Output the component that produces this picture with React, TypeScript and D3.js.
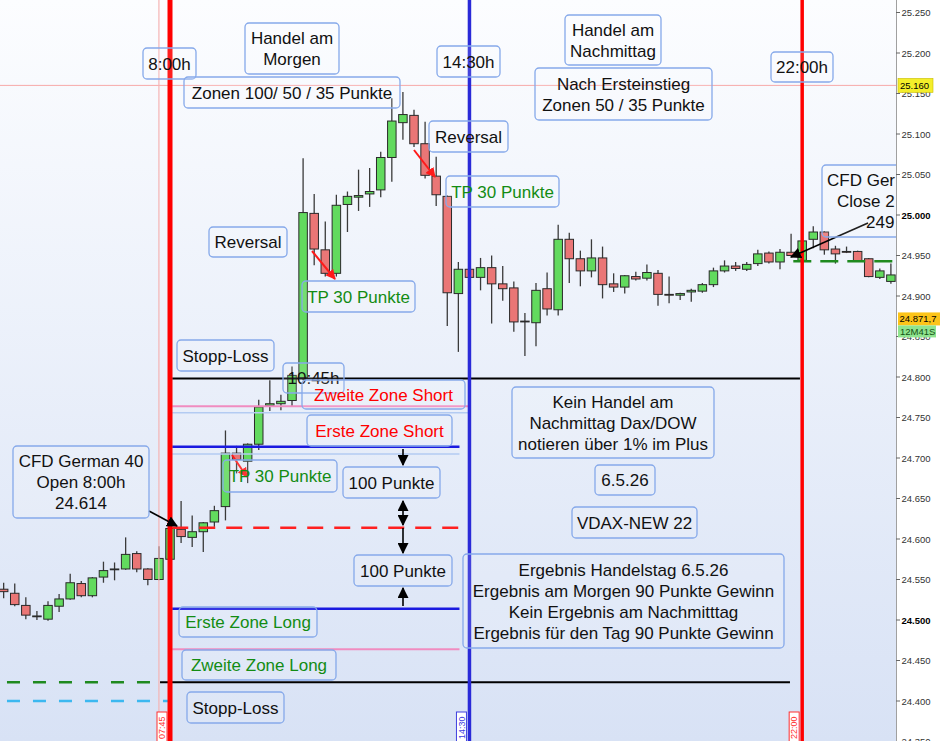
import React from 'react';
import * as d3 from 'd3';

// 15-Minuten-Kerzen CFD German 40, 6.5.26
const opens = [
  24538, 24533, 24518, 24504, 24501, 24517, 24526, 24545, 24530, 24553, 24562, 24563, 24582, 24563, 24550,
  24575, 24612, 24602, 24609, 24621, 24640, 24706, 24696, 24717, 24765, 24767, 24771, 24799, 25002, 24957,
  24928, 25013, 25022, 25026, 25031, 25071, 25114, 25123, 25088, 25048, 25023, 24903, 24933, 24923, 24935,
  24915, 24910, 24868, 24867, 24909, 24883, 24970, 24946, 24931, 24947, 24915, 24911, 24924, 24922, 24928,
  24902, 24901, 24905, 24906, 24914, 24931, 24937, 24933, 24940, 24953, 24942, 24954, 24944, 24970, 24979,
  24958, 24955, 24955, 24946, 24923, 24918,
];
const highs = [
  24546, 24545, 24528, 24511, 24523, 24532, 24557, 24548, 24553, 24572, 24571, 24602, 24585, 24564, 24591,
  24614, 24647, 24629, 24621, 24641, 24734, 24715, 24718, 24772, 24796, 24778, 24813, 25070, 25026, 24992,
  25025, 25029, 25056, 25058, 25078, 25144, 25152, 25130, 25115, 25072, 25024, 24942, 24934, 24947, 24950,
  24937, 24918, 24879, 24916, 24929, 24988, 24978, 24956, 24970, 24961, 24928, 24926, 24930, 24939, 24932,
  24924, 24904, 24909, 24916, 24935, 24944, 24942, 24942, 24957, 24955, 24958, 24977, 24969, 24986, 24980,
  24962, 24961, 24956, 24947, 24934, 24940,
];
const lows = [
  24527, 24517, 24501, 24500, 24499, 24510, 24525, 24528, 24528, 24546, 24549, 24562, 24559, 24543, 24549,
  24574, 24595, 24590, 24584, 24615, 24623, 24681, 24669, 24710, 24758, 24759, 24763, 24796, 24938, 24924,
  24924, 24979, 25005, 25010, 25022, 25041, 25093, 25084, 25045, 25011, 24863, 24831, 24922, 24907, 24866,
  24894, 24856, 24826, 24838, 24876, 24876, 24916, 24912, 24923, 24897, 24905, 24903, 24919, 24919, 24888,
  24891, 24895, 24893, 24904, 24911, 24929, 24931, 24931, 24937, 24940, 24933, 24949, 24942, 24959, 24951,
  24940, 24953, 24942, 24923, 24921, 24915,
];
const closes = [
  24535, 24519, 24506, 24505, 24518, 24526, 24546, 24530, 24552, 24561, 24563, 24581, 24563, 24550, 24576,
  24613, 24603, 24609, 24620, 24635, 24706, 24698, 24717, 24763, 24767, 24770, 24802, 25003, 24958, 24928,
  25012, 25023, 25024, 25029, 25071, 25116, 25124, 25088, 25049, 25025, 24904, 24933, 24923, 24935, 24915,
  24909, 24868, 24869, 24907, 24884, 24970, 24946, 24931, 24947, 24914, 24911, 24925, 24921, 24929, 24902,
  24901, 24903, 24907, 24914, 24931, 24937, 24934, 24939, 24952, 24942, 24954, 24950, 24968, 24979, 24957,
  24952, 24954, 24943, 24924, 24931, 24926,
];

// Kerzen-Index der Zeitmarken
const markerBars = [14, 15, 42, 72];
const markerLabels = ['07:45', '14:30', '22:00'];

// Preis-Level (Zonen)
const markPrice = 25160;
const shortLevels = [24798, 24764, 24714]; // Stopp, Zweite, Erste Zone Short
const openPrice = 24614;
const longLevels = [24514, 24464, 24423]; // Erste, Zweite Zone, Stopp Long
const helperLevels = [24756, 24705]; // hellblaue Hilfslinien
const preLevels = [24423, 24400]; // gestrichelte Linien vor 8:00
const closeLevel = 24943;
const lastPrice = 24871.7;

const yTicks = d3.range(24350, 25251, 50);

const W = 940;
const H = 741;
const PLOT_R = 896;
const FONT = 'Liberation Sans, Arial, sans-serif';

const x = d3.scaleLinear().domain([0, closes.length - 1]).range([3.65, 890.9]);
const y = d3.scaleLinear().domain([24500, 25000]).range([620, 215]);

const fmtPrice = (v: number) => {
  const s = String(v);
  return s.slice(0, 2) + '.' + s.slice(2);
};

type Note = {
  box: [number, number, number, number];
  lines: string[];
  color?: string;
  starts?: number[]; // linksbündige Zeilen (abgeschnittene Box am Rand)
};

const GREEN = '#138c13';
const RED = '#ff0000';

const notes: Note[] = [
  { box: [143, 48, 196, 79], lines: ['8:00h'] },
  { box: [245, 23, 339, 74], lines: ['Handel am', 'Morgen'] },
  { box: [437, 46, 500, 77], lines: ['14:30h'] },
  { box: [184, 77, 400, 108], lines: ['Zonen 100/ 50 / 35 Punkte'] },
  { box: [565, 15, 661, 65], lines: ['Handel am', 'Nachmittag'] },
  { box: [535, 68, 712, 120], lines: ['Nach Ersteinstieg', 'Zonen 50 / 35 Punkte'] },
  { box: [771, 52, 833, 82], lines: ['22:00h'] },
  { box: [429, 121, 508, 152], lines: ['Reversal'] },
  { box: [446, 176, 559, 207], lines: ['TP 30 Punkte'], color: GREEN },
  { box: [822, 165, 962, 237], lines: ['CFD Ger', 'Close 2', '249'], starts: [827, 837, 866] },
  { box: [209, 227, 287, 257], lines: ['Reversal'] },
  { box: [302, 281, 415, 312], lines: ['TP 30 Punkte'], color: GREEN },
  { box: [177, 340, 274, 371], lines: ['Stopp-Loss'] },
  { box: [283, 363, 344, 393], lines: ['10:45h'] },
  { box: [302, 380, 465, 409], lines: ['Zweite Zone Short'], color: RED },
  { box: [307, 415, 452, 446], lines: ['Erste Zone Short'], color: RED },
  { box: [223, 460, 337, 492], lines: ['TP 30 Punkte'], color: GREEN },
  { box: [343, 467, 440, 498], lines: ['100 Punkte'] },
  { box: [354, 555, 452, 586], lines: ['100 Punkte'] },
  { box: [512, 387, 714, 458], lines: ['Kein Handel am', 'Nachmittag Dax/DOW', 'notieren über 1% im Plus'] },
  { box: [595, 465, 655, 495], lines: ['6.5.26'] },
  { box: [572, 507, 697, 538], lines: ['VDAX-NEW 22'] },
  {
    box: [463, 554, 784, 648],
    lines: [
      'Ergebnis Handelstag 6.5.26',
      'Ergebnis am Morgen 90 Punkte Gewinn',
      'Kein Ergebnis am Nachmitttag',
      'Ergebnis für den Tag 90 Punkte Gewinn',
    ],
  },
  { box: [179, 607, 317, 637], lines: ['Erste Zone Long'], color: GREEN },
  { box: [182, 650, 336, 680], lines: ['Zweite Zone Long'], color: GREEN },
  { box: [187, 692, 284, 723], lines: ['Stopp-Loss'] },
  { box: [13, 446, 149, 518], lines: ['CFD German 40', 'Open 8:00h', '24.614'] },
];

const NoteBox: React.FC<{ n: Note }> = ({ n }) => {
  const [x0, y0, x1, y1] = n.box;
  const cx = (x0 + x1) / 2;
  const cy = (y0 + y1) / 2;
  const gap = 21;
  const top = cy - ((n.lines.length - 1) * gap) / 2;
  return (
    <g>
      <rect x={x0} y={y0} width={x1 - x0} height={y1 - y0} rx={4} fill="rgba(255,255,255,0.12)" stroke="#86a9ea" strokeWidth={1.3} />
      {n.lines.map((l, i) => (
        <text
          key={i}
          x={n.starts ? n.starts[i] : cx}
          y={top + i * gap + 6}
          textAnchor={n.starts ? 'start' : 'middle'}
          fontSize={17}
          fontFamily={FONT}
          fill={n.color || '#111'}
        >
          {l}
        </text>
      ))}
    </g>
  );
};

const App: React.FC = () => {
  const bodyW = 8.5;
  const xs = (i: number) => x(i);
  const startBar = 15.2;

  const hLines = [
    { p: markPrice, a: -1, b: 81, c: '#f7a9a9', w: 1 },
    { p: shortLevels[0], a: startBar, b: 71.8, c: '#000', w: 2 },
    { p: helperLevels[0], a: startBar, b: 42, c: '#b3cbf2', w: 1.5 },
    { p: shortLevels[1], a: startBar, b: 42, c: '#f08cc0', w: 2 },
    { p: helperLevels[1], a: startBar, b: 41.1, c: '#b3cbf2', w: 1.5 },
    { p: shortLevels[2], a: startBar, b: 41.1, c: '#1a1ae0', w: 2.5 },
    { p: openPrice, a: startBar, b: 42, c: '#ff2020', w: 2.5, d: '16 11' },
    { p: longLevels[0], a: startBar, b: 41.1, c: '#1a1ae0', w: 2.5 },
    { p: longLevels[1], a: startBar, b: 41.1, c: '#f08cc0', w: 2 },
    { p: longLevels[2], a: 14.1, b: 70.9, c: '#000', w: 2 },
    { p: preLevels[0], a: 0.3, b: 13.9, c: '#1f8a1f', w: 2.5, d: '13 13' },
    { p: preLevels[1], a: 0.3, b: 15, c: '#3cb8f0', w: 2.5, d: '13 13' },
    { p: closeLevel, a: 71.2, b: 80.4, c: '#1f8a1f', w: 2.5, d: '18 9' },
  ];

  const vLines = [
    { i: markerBars[0], c: '#f5b3b3', w: 1.2 },
    { i: markerBars[1], c: '#ff0000', w: 5 },
    { i: markerBars[2], c: '#2a2ad8', w: 3.5 },
    { i: markerBars[3], c: '#ff0000', w: 3.5 },
  ];

  const timeTags = [
    { i: markerBars[1], t: markerLabels[0], c: '#ff3030' },
    { i: markerBars[2], t: markerLabels[1], c: '#4040e0' },
    { i: markerBars[3], t: markerLabels[2], c: '#ff3030' },
  ];

  return (
    <div style={{ position: 'absolute', left: 0, top: 0 }}>
      <svg width={W} height={H} style={{ display: 'block' }}>
        <defs>
          <linearGradient id="bg" x1="0" y1="0" x2="0" y2="1">
            <stop offset="0%" stopColor="#fcfdff" />
            <stop offset="100%" stopColor="#d8e2f5" />
          </linearGradient>
          <clipPath id="plot">
            <rect x={0} y={0} width={PLOT_R} height={H} />
          </clipPath>
          <marker id="ahB" viewBox="0 0 10 10" refX="9" refY="5" markerWidth={11} markerHeight={11} markerUnits="userSpaceOnUse" orient="auto-start-reverse">
            <path d="M0,0 L10,5 L0,10 z" fill="#000" />
          </marker>
          <marker id="ahR" viewBox="0 0 10 10" refX="9" refY="5" markerWidth={10} markerHeight={10} markerUnits="userSpaceOnUse" orient="auto">
            <path d="M0,0 L10,5 L0,10 z" fill="#ff1a1a" />
          </marker>
        </defs>

        <rect x={0} y={0} width={PLOT_R} height={H} fill="url(#bg)" />

        <g clipPath="url(#plot)">
          {/* Kerzen */}
          {closes.map((c, i) => {
            const o = opens[i];
            const up = c >= o;
            const top = y(Math.max(o, c));
            const h = Math.max(0.8, Math.abs(y(o) - y(c)));
            return (
              <g key={i}>
                <line x1={xs(i)} x2={xs(i)} y1={y(highs[i])} y2={y(lows[i])} stroke="#3a3a3a" strokeWidth={1.3} />
                <rect
                  x={xs(i) - bodyW / 2}
                  y={top}
                  width={bodyW}
                  height={h}
                  fill={up ? '#62da5e' : '#ea7676'}
                  stroke="#2a2a2a"
                  strokeWidth={1}
                />
              </g>
            );
          })}

          {/* Zonen */}
          {hLines.map((l, k) => (
            <line
              key={k}
              x1={xs(l.a)}
              x2={xs(l.b)}
              y1={y(l.p)}
              y2={y(l.p)}
              stroke={l.c}
              strokeWidth={l.w}
              strokeDasharray={l.d}
            />
          ))}

          {/* Zeitmarken */}
          {vLines.map((v, k) => (
            <line key={k} x1={xs(v.i)} x2={xs(v.i)} y1={0} y2={H} stroke={v.c} strokeWidth={v.w} />
          ))}

          {/* Pfeile */}
          <line x1={149} y1={511} x2={177} y2={526} stroke="#000" strokeWidth={1.6} markerEnd="url(#ahB)" />
          <line x1={868} y1={223} x2={791} y2={257} stroke="#000" strokeWidth={1.6} markerEnd="url(#ahB)" />
          <line x1={232} y1={455} x2={247} y2={477} stroke="#ff1a1a" strokeWidth={2} markerEnd="url(#ahR)" />
          <line x1={312} y1={251} x2={335} y2={279} stroke="#ff1a1a" strokeWidth={2} markerEnd="url(#ahR)" />
          <line x1={414} y1={150} x2={435} y2={177} stroke="#ff1a1a" strokeWidth={2} markerEnd="url(#ahR)" />
          <line x1={403} y1={449} x2={403} y2={465} stroke="#000" strokeWidth={1.6} markerEnd="url(#ahB)" />
          <line x1={403} y1={501} x2={403} y2={525} stroke="#000" strokeWidth={1.6} markerStart="url(#ahB)" markerEnd="url(#ahB)" />
          <line x1={403} y1={528} x2={403} y2={553} stroke="#000" strokeWidth={1.6} markerEnd="url(#ahB)" />
          <line x1={403} y1={606} x2={403} y2={588} stroke="#000" strokeWidth={1.6} markerEnd="url(#ahB)" />

          {notes.map((n, k) => (
            <NoteBox key={k} n={n} />
          ))}

          {timeTags.map((t, k) => {
            const rx = xs(t.i) - 13;
            return (
              <g key={k}>
                <rect x={rx} y={712} width={10} height={30} fill="#fff" stroke={t.c} strokeWidth={1} />
                <text
                  transform={`translate(${rx + 8.3},${739}) rotate(-90)`}
                  fontSize={9}
                  fontFamily={FONT}
                  fill={t.c}
                >
                  {t.t}
                </text>
              </g>
            );
          })}
        </g>

        {/* Preisachse */}
        <rect x={PLOT_R} y={0} width={W - PLOT_R} height={H} fill="#fff" />
        <line x1={PLOT_R + 0.5} x2={PLOT_R + 0.5} y1={0} y2={H} stroke="#a0a0a0" strokeWidth={1} />
        {yTicks.map((v) => (
          <g key={v}>
            <line x1={PLOT_R} x2={PLOT_R + 4} y1={y(v)} y2={y(v)} stroke="#666" strokeWidth={1} />
            <text
              x={PLOT_R + 5.5}
              y={y(v) + 3.5}
              fontSize={9.5}
              fontFamily={FONT}
              fontWeight={v % 500 === 0 ? 'bold' : 'normal'}
              fill={v % 500 === 0 ? '#000' : '#333'}
            >
              {fmtPrice(v)}
            </text>
          </g>
        ))}
        <rect x={PLOT_R + 2} y={y(markPrice) - 7} width={35} height={14} fill="#f4ee2a" stroke="#c8bd00" strokeWidth={0.6} />
        <text x={PLOT_R + 4} y={y(markPrice) + 3.5} fontSize={9.5} fontFamily={FONT} fill="#000">
          {fmtPrice(markPrice)}
        </text>
        <rect x={PLOT_R + 2} y={y(lastPrice) - 6.5} width={42} height={13} fill="#fcc419" />
        <text x={PLOT_R + 3.5} y={y(lastPrice) + 3.5} fontSize={9.5} fontFamily={FONT} fill="#000">
          24.871,7
        </text>
        <rect x={PLOT_R + 2} y={y(lastPrice) + 6.5} width={38} height={12} fill="#8fe48f" />
        <text x={PLOT_R + 4} y={y(lastPrice) + 16} fontSize={9.5} fontFamily={FONT} fill="#145214">
          12M41S
        </text>
      </svg>
    </div>
  );
};

export default App;
